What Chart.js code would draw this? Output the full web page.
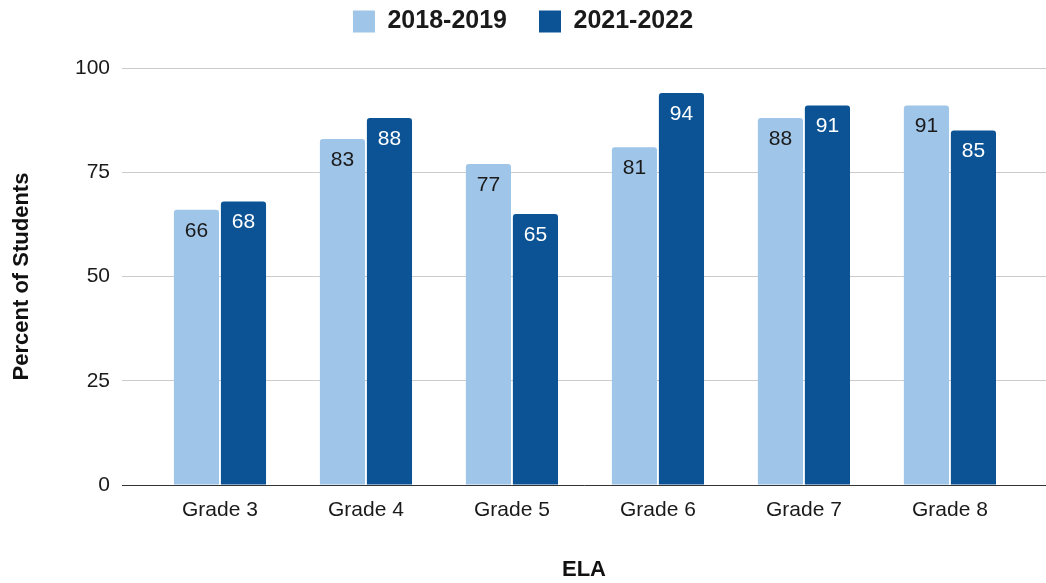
<!DOCTYPE html>
<html>
<head>
<meta charset="utf-8">
<script src="https://cdn.jsdelivr.net/npm/chart.js@4.4.1/dist/chart.umd.min.js"></script>
<style>
  html, body { margin: 0; padding: 0; background: #fff; }
  #wrap { width: 1046px; height: 583px; }
</style>
</head>
<body>
<div id="wrap"><canvas id="elaChart"></canvas></div>
<script>
// ---------------------------
// Data
// ---------------------------
const categories = ['Grade 3', 'Grade 4', 'Grade 5', 'Grade 6', 'Grade 7', 'Grade 8'];
const seriesNames = ['2018-2019', '2021-2022'];
const values2019 = [66, 83, 77, 81, 88, 91];
const values2022 = [68, 88, 65, 94, 91, 85];
const yTicks = [0, 25, 50, 75, 100];

const FONT = "'Liberation Sans', Arial, sans-serif";
const LIGHT = '#9fc5e8';
const DARK = '#0b5394';

// value labels inside the top of each bar
const barLabels = {
    id: 'barLabels',
    afterDatasetsDraw(chart) {
        const ctx = chart.ctx;
        ctx.save();
        ctx.font = `21px ${FONT}`;
        ctx.textAlign = 'center';
        ctx.textBaseline = 'middle';
        chart.data.datasets.forEach((ds, di) => {
            const meta = chart.getDatasetMeta(di);
            ctx.fillStyle = di === 0 ? '#1a1a1a' : '#fff';
            meta.data.forEach((bar, i) => {
                ctx.fillText(String(ds.data[i].y), bar.x, bar.y + 21);
            });
        });
        ctx.restore();
    }
};

// extra room between legend and plot
const legendGap = {
    id: 'legendGap',
    beforeInit(chart) {
        const fit = chart.legend.fit;
        chart.legend.fit = function () {
            fit.bind(chart.legend)();
            this.height += 24;
        };
    }
};

new Chart(document.getElementById('elaChart').getContext('2d'), {
    type: 'bar',
    data: {
        datasets: [
            {
                label: seriesNames[0],
                data: values2019.map((v, i) => ({ x: i, y: v })),
                backgroundColor: LIGHT,
                borderRadius: { topLeft: 3, topRight: 3 },
                borderSkipped: 'bottom'
            },
            {
                label: seriesNames[1],
                data: values2022.map((v, i) => ({ x: i, y: v })),
                backgroundColor: DARK,
                borderRadius: { topLeft: 3, topRight: 3 },
                borderSkipped: 'bottom'
            }
        ]
    },
    options: {
        responsive: true,
        maintainAspectRatio: false,
        animation: false,
        categoryPercentage: 0.644,
        barPercentage: 0.96,
        layout: { padding: { top: -23, right: 0, bottom: 0, left: 0 } },
        plugins: {
            tooltip: { enabled: false },
            legend: {
                position: 'top',
                labels: {
                    boxWidth: 22,
                    boxHeight: 22,
                    padding: 32,
                    color: '#1a1a1a',
                    font: { family: FONT, size: 25, weight: 'bold' }
                }
            }
        },
        scales: {
            x: {
                type: 'linear',
                offset: false,
                min: -0.671,
                max: 5.658,
                afterBuildTicks: (scale) => {
                    scale.ticks = categories.map((_, i) => ({ value: i }));
                },
                afterFit: (scale) => { scale.height = 98; },
                grid: { display: false },
                border: { display: true, color: '#333', width: 1 },
                ticks: {
                    autoSkip: false,
                    maxRotation: 0,
                    padding: 5,
                    color: '#1a1a1a',
                    font: { family: FONT, size: 21 },
                    callback: (v) => categories[v] ?? ''
                },
                title: {
                    display: true,
                    text: 'ELA',
                    color: '#111',
                    font: { family: FONT, size: 22, weight: 'bold' },
                    padding: { top: 0, bottom: 0 }
                }
            },
            y: {
                min: 0,
                max: 100,
                afterBuildTicks: (scale) => {
                    scale.ticks = yTicks.map(v => ({ value: v }));
                },
                afterFit: (scale) => { scale.width = 122; },
                grid: {
                    drawTicks: false,
                    color: '#cccccc',
                    lineWidth: 1
                },
                border: { display: false },
                ticks: {
                    padding: 12,
                    color: '#1a1a1a',
                    font: { family: FONT, size: 21 }
                },
                title: {
                    display: true,
                    text: 'Percent of Students',
                    color: '#111',
                    font: { family: FONT, size: 22, weight: 'bold' },
                    padding: { top: 9, bottom: 0 }
                }
            }
        }
    },
    plugins: [barLabels, legendGap]
});
</script>
</body>
</html>
